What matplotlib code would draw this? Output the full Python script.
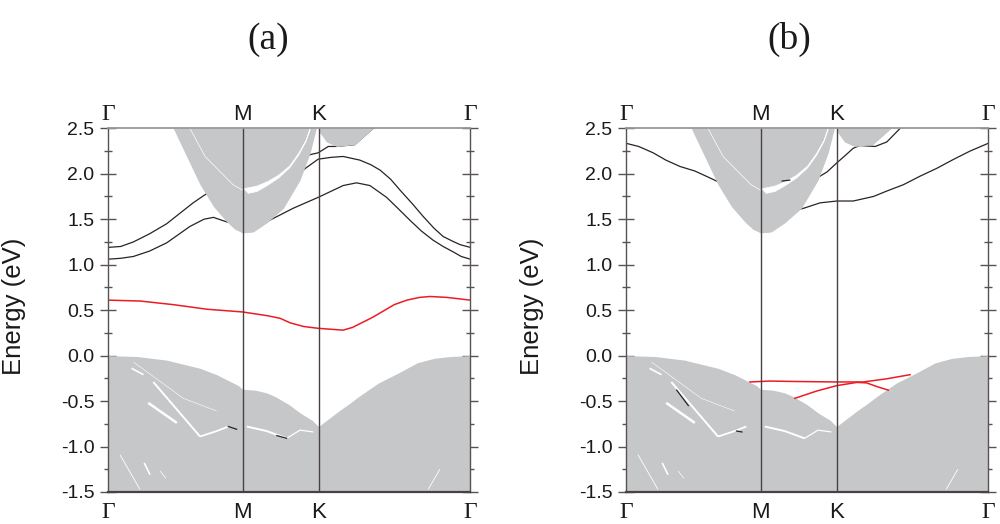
import matplotlib
matplotlib.use('Agg')
import matplotlib.pyplot as plt
from matplotlib.transforms import blended_transform_factory

# ---------------- data ----------------
KPTS = [0.0, 0.3715, 0.5813, 1.0]
KLABELS = ['Γ', 'M', 'K', 'Γ']
PANEL_TITLES = ['(a)', '(b)']
YTICKS = [-1.5, -1.0, -0.5, 0.0, 0.5, 1.0, 1.5, 2.0, 2.5]
YTICKLABELS = ['-1.5', '-1.0', '-0.5', '0.0', '0.5', '1.0', '1.5', '2.0', '2.5']
EMIN, EMAX = -1.5, 2.5

# projected bulk valence region: top edge (filled down to EMIN)
vb_k = [0.000, 0.080, 0.162, 0.254, 0.300, 0.345, 0.360, 0.371, 0.406, 0.438,
        0.461, 0.500, 0.530, 0.563, 0.581, 0.637, 0.669, 0.692, 0.747, 0.802,
        0.853, 0.900, 0.945, 1.000]
vb_top = [0.00, -0.01, -0.05, -0.14, -0.21, -0.30, -0.33, -0.37, -0.38, -0.41,
          -0.45, -0.54, -0.63, -0.71, -0.78, -0.61, -0.52, -0.45, -0.30, -0.19,
          -0.08, -0.03, -0.01, 0.00]

# projected bulk conduction regions: lower edge (filled up to EMAX)
cb1_k = [0.180, 0.217, 0.254, 0.291, 0.328, 0.350, 0.371, 0.390, 0.401, 0.438, 0.484, 0.530, 0.558, 0.575]
cb1_low = [2.50, 2.19, 1.88, 1.64, 1.47, 1.39, 1.35, 1.355, 1.36, 1.46, 1.62, 1.93, 2.23, 2.50]
cb2_k = [0.583, 0.603, 0.631, 0.681, 0.732]
cb2_low = [2.46, 2.35, 2.30, 2.32, 2.50]

# gaps inside the conduction region
wedge_k = [0.374, 0.386, 0.410, 0.440, 0.470, 0.500, 0.525, 0.545, 0.556]
wedge_up = [1.84, 1.85, 1.87, 1.92, 1.99, 2.09, 2.23, 2.37, 2.50]
wedge_low = [1.84, 1.79, 1.81, 1.88, 1.96, 2.07, 2.21, 2.36, 2.48]
cthin_k = [0.226, 0.268, 0.345, 0.371]
cthin_e = [2.50, 2.19, 1.88, 1.82]

# gaps inside the valence region (k list, E list)
vgap1_k, vgap1_e = [0.125, 0.254], [-0.29, -0.89]
vgap2_k, vgap2_e = [0.254, 0.300, 0.332], [-0.89, -0.83, -0.78]
vgap3_k, vgap3_e = [0.383, 0.438, 0.493], [-0.78, -0.83, -0.91]
vgap4_k, vgap4_e = [0.493, 0.530, 0.567], [-0.91, -0.82, -0.84]
vgap5_k, vgap5_e = [0.111, 0.190], [-0.52, -0.74]
vgap6_k, vgap6_e = [0.065, 0.098], [-0.14, -0.21]
vgap7_k, vgap7_e = [0.070, 0.208, 0.300], [-0.07, -0.47, -0.61]
vgap8_k, vgap8_e = [0.033, 0.088], [-1.09, -1.47]
vgap9_k, vgap9_e = [0.100, 0.116], [-1.18, -1.31]
vgap10_k, vgap10_e = [0.144, 0.160], [-1.27, -1.35]
vgap11_k, vgap11_e = [0.884, 0.916], [-1.47, -1.25]

# panel (a) bands
a_b1L_k = [0.000, 0.035, 0.070, 0.115, 0.162, 0.200, 0.235, 0.268, 0.285]
a_b1L_e = [1.19, 1.20, 1.25, 1.34, 1.45, 1.57, 1.68, 1.77, 1.80]
a_b1R_k = [0.520, 0.545, 0.580, 0.615, 0.649, 0.695, 0.725, 0.751, 0.780, 0.806, 0.840, 0.870, 0.900, 0.925, 0.950, 0.972, 1.000]
a_b1R_e = [1.97, 2.06, 2.16, 2.18, 2.19, 2.15, 2.10, 2.04, 1.94, 1.82, 1.67, 1.53, 1.40, 1.31, 1.26, 1.22, 1.19]
a_b2L_k = [0.000, 0.035, 0.070, 0.115, 0.162, 0.226, 0.265, 0.291, 0.328, 0.340]
a_b2L_e = [1.06, 1.07, 1.09, 1.15, 1.24, 1.42, 1.50, 1.52, 1.47, 1.46]
a_b2R_k = [0.430, 0.447, 0.511, 0.580, 0.649, 0.686, 0.723, 0.769, 0.800, 0.833, 0.865, 0.897, 0.925, 0.953, 0.975, 1.000]
a_b2R_e = [1.45, 1.49, 1.62, 1.74, 1.87, 1.90, 1.87, 1.74, 1.62, 1.49, 1.37, 1.27, 1.20, 1.14, 1.09, 1.06]
a_b3_k = [0.550, 0.558, 0.580, 0.608, 0.631, 0.681, 0.732]
a_b3_e = [2.19, 2.21, 2.23, 2.30, 2.30, 2.32, 2.50]
a_red_k = [0.000, 0.089, 0.181, 0.273, 0.371, 0.438, 0.475, 0.503, 0.540, 0.580, 0.649, 0.675,
           0.695, 0.730, 0.760, 0.790, 0.825, 0.860, 0.889, 0.935, 1.000]
a_red_e = [0.61, 0.60, 0.56, 0.51, 0.48, 0.44, 0.41, 0.36, 0.32, 0.30, 0.28, 0.31,
           0.35, 0.42, 0.49, 0.56, 0.61, 0.64, 0.65, 0.64, 0.61]
a_frag1_k, a_frag1_e = [0.332, 0.355], [-0.78, -0.81]
a_frag2_k, a_frag2_e = [0.466, 0.493], [-0.88, -0.91]

# panel (b) bands
b_bAL_k = [0.000, 0.035, 0.075, 0.110, 0.149, 0.190, 0.223, 0.255, 0.270]
b_bAL_e = [2.335, 2.30, 2.23, 2.15, 2.08, 2.03, 1.97, 1.91, 1.88]
b_bAR_k = [0.500, 0.526, 0.555, 0.582, 0.605, 0.627, 0.645, 0.688, 0.720, 0.747, 0.757]
b_bAR_e = [1.94, 1.95, 2.02, 2.12, 2.20, 2.28, 2.31, 2.30, 2.35, 2.46, 2.50]
b_bB_k = [0.440, 0.453, 0.471, 0.490, 0.536, 0.582, 0.627, 0.683, 0.720, 0.766, 0.810, 0.858, 0.905, 0.950, 1.000]
b_bB_e = [1.55, 1.57, 1.60, 1.62, 1.68, 1.70, 1.70, 1.75, 1.81, 1.88, 1.97, 2.06, 2.16, 2.25, 2.335]
b_red1_k = [0.342, 0.397, 0.471, 0.582, 0.655, 0.720, 0.784]
b_red1_e = [-0.29, -0.28, -0.285, -0.29, -0.29, -0.255, -0.21]
b_red2_k = [0.466, 0.526, 0.582, 0.637, 0.664, 0.692, 0.724]
b_red2_e = [-0.47, -0.39, -0.33, -0.295, -0.30, -0.34, -0.38]
b_frag1_k, b_frag1_e = [0.140, 0.172], [-0.38, -0.55]
b_frag2_k, b_frag2_e = [0.305, 0.320], [-0.83, -0.84]
b_frag3_k, b_frag3_e = [0.431, 0.452], [1.92, 1.93]

# ---------------- style ----------------
GREY = '#c6c7c9'
BAND = '#2b2323'
RED = '#ec1c24'
FRAME = '#5a5252'
SANS = 'Liberation Sans'
SERIF = 'Liberation Serif'

fig = plt.figure(figsize=(10, 5.24), dpi=100)
axes = [fig.add_axes([0.108, 0.0611, 0.3623, 0.6941]),
        fig.add_axes([0.626, 0.0611, 0.3623, 0.6941])]


def draw_common(ax):
    ax.set_xlim(0, 1)
    ax.set_ylim(EMIN, EMAX)
    ax.fill_between(vb_k, vb_top, EMIN, color=GREY, lw=0, zorder=2)
    ax.fill_between(cb1_k, cb1_low, EMAX, color=GREY, lw=0, zorder=2)
    ax.fill_between(cb2_k, cb2_low, EMAX, color=GREY, lw=0, zorder=2)
    ax.fill_between(wedge_k, wedge_low, wedge_up, color='white', lw=0.5,
                    edgecolor='white', zorder=3)
    ax.plot(cthin_k, cthin_e, color='white', lw=0.5, zorder=3)
    gaps = [(vgap1_k, vgap1_e, 1.4), (vgap2_k, vgap2_e, 1.3), (vgap3_k, vgap3_e, 1.4),
            (vgap4_k, vgap4_e, 0.9), (vgap5_k, vgap5_e, 1.8), (vgap6_k, vgap6_e, 1.2),
            (vgap7_k, vgap7_e, 0.4), (vgap8_k, vgap8_e, 0.6), (vgap9_k, vgap9_e, 1.2),
            (vgap10_k, vgap10_e, 0.5), (vgap11_k, vgap11_e, 0.6)]
    for k, e, w in gaps:
        ax.plot(k, e, color='white', lw=w, zorder=3, solid_capstyle='butt')
    for kx in KPTS[1:3]:
        ax.axvline(kx, color='#4a4242', lw=1.0, zorder=6)

    ax.set_yticks(YTICKS)
    ax.set_yticklabels(YTICKLABELS, fontsize=14, family=SANS, color='#1a1a1a')
    ax.set_yticks([-1.25, -0.75, -0.25, 0.25, 0.75, 1.25, 1.75, 2.25], minor=True)
    ax.tick_params(axis='y', which='major', direction='inout', length=11.5,
                   width=1.0, color=FRAME, left=True, right=True, pad=4)
    ax.tick_params(axis='y', which='minor', direction='inout', length=5.8,
                   width=1.0, color=FRAME, left=True, right=True)
    ax.set_xticks([])
    for side in ['left', 'right']:
        ax.spines[side].set_color(FRAME)
        ax.spines[side].set_linewidth(1.0)
    ax.spines['bottom'].set_color('#4a4242')
    ax.spines['bottom'].set_linewidth(1.6)
    ax.spines['top'].set_color('#9a9696')
    ax.spines['top'].set_linewidth(1.3)
    for sp in ax.spines.values():
        sp.set_zorder(7)

    ax.set_ylabel('Energy (eV)', fontsize=18.5, family=SANS, color='#1a1a1a')
    ax.yaxis.set_label_coords(-0.226, 0.51)

    tr = blended_transform_factory(ax.transData, ax.transAxes)
    h = 363.4
    for kx, lab in zip(KPTS, KLABELS):
        fam = SERIF if lab == 'Γ' else SANS
        fs = 17 if lab == 'Γ' else 16
        ax.text(kx, 1 + 8.5 / h, lab, transform=tr, ha='center', va='baseline',
                fontsize=fs, family=fam, color='#1a1a1a')
        ax.text(kx, -10.5 / h, lab, transform=tr, ha='center', va='top',
                fontsize=fs, family=fam, color='#1a1a1a')


for ax in axes:
    draw_common(ax)

axA, axB = axes
# panel (a)
for k, e in [(a_b1L_k, a_b1L_e), (a_b1R_k, a_b1R_e), (a_b2L_k, a_b2L_e),
             (a_b2R_k, a_b2R_e), (a_b3_k, a_b3_e)]:
    axA.plot(k, e, color=BAND, lw=0.9, zorder=1)
for k, e in [(a_frag1_k, a_frag1_e), (a_frag2_k, a_frag2_e)]:
    axA.plot(k, e, color=BAND, lw=0.9, zorder=4)
axA.plot(a_red_k, a_red_e, color=RED, lw=1.1, zorder=5)

# panel (b)
for k, e in [(b_bAL_k, b_bAL_e), (b_bAR_k, b_bAR_e), (b_bB_k, b_bB_e)]:
    axB.plot(k, e, color=BAND, lw=0.9, zorder=1)
for k, e in [(b_frag1_k, b_frag1_e), (b_frag2_k, b_frag2_e), (b_frag3_k, b_frag3_e)]:
    axB.plot(k, e, color=BAND, lw=0.9, zorder=4)
axB.plot(b_red1_k, b_red1_e, color=RED, lw=1.1, zorder=5)
axB.plot(b_red2_k, b_red2_e, color=RED, lw=1.1, zorder=5)

fig.text(0.268, 0.924, PANEL_TITLES[0], ha='center', va='center', fontsize=27,
         family=SERIF, color='#1a1a1a')
fig.text(0.789, 0.924, PANEL_TITLES[1], ha='center', va='center', fontsize=27,
         family=SERIF, color='#1a1a1a')

fig.savefig('out.png', dpi=100)
